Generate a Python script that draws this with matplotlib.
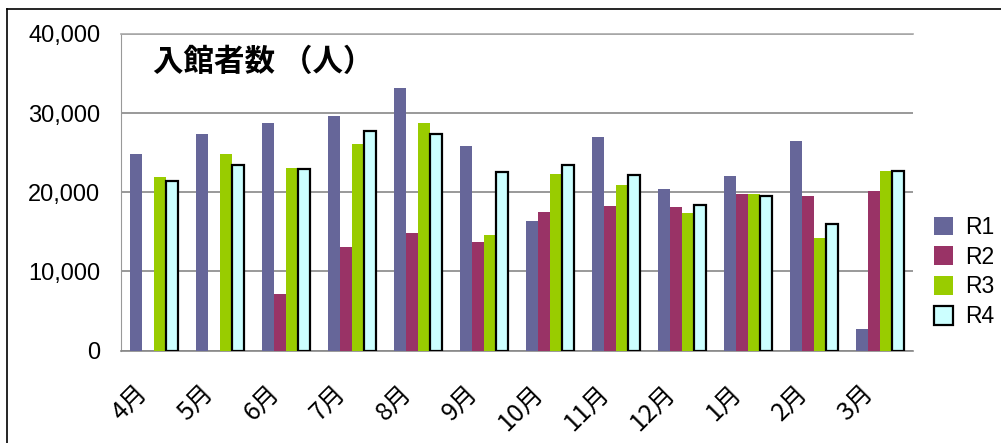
import matplotlib
matplotlib.use("Agg")
import matplotlib.pyplot as plt
import numpy as np
from matplotlib.lines import Line2D

plt.rcParams['font.family'] = ['Noto Sans CJK JP', 'DejaVu Sans']

months = ["4月", "5月", "6月", "7月", "8月", "9月", "10月", "11月", "12月", "1月", "2月", "3月"]
series_names = ["R1", "R2", "R3", "R4"]
r1 = [24800, 27330, 28720, 29600, 33140, 25810, 16340, 26950, 20380, 22020, 26440, 2700]
r2 = [0, 0, 7120, 13050, 14820, 13680, 17470, 18230, 18100, 19750, 19490, 20130]
r3 = [21900, 24800, 23030, 26060, 28720, 14570, 22270, 20880, 17350, 19750, 14190, 22650]
r4 = [21430, 23450, 22950, 27790, 27330, 22570, 23410, 22190, 18400, 19540, 16040, 22650]
y_ticks = [0, 10000, 20000, 30000, 40000]
title = "入館者数 （人）"

fig = plt.figure(figsize=(10.01, 4.43), dpi=100)
W, H = 1001, 443
ax = fig.add_axes([121 / W, (H - 350.5) / H, 792 / W, 316.5 / H])

x = np.arange(len(months))
bw = 0.182
styles = [
    dict(color="#666699"),
    dict(color="#993366"),
    dict(color="#99CC00"),
    dict(facecolor="#CCFFFF", edgecolor="black", linewidth=1.6),
]
for i, (vals, name, st) in enumerate(zip([r1, r2, r3, r4], series_names, styles)):
    ax.bar(x + (i - 1.5) * bw, vals, width=bw, label=name, zorder=3, **st)

ax.set_xlim(-0.5, len(months) - 0.5)
ax.set_ylim(0, 40000)
ax.set_yticks(y_ticks)
ax.set_yticklabels([f"{v:,}" for v in y_ticks], fontsize=17, family=['Liberation Sans', 'DejaVu Sans'])
ax.set_xticks(x)
ax.set_xticklabels([])
for xi, m in zip(x, months):
    ax.annotate(m, xy=(xi, 0), xycoords=('data', 'axes fraction'),
                xytext=(-14, -21), textcoords='offset points',
                rotation=45, ha='right', va='top', rotation_mode='anchor',
                fontsize=18, annotation_clip=False)
ax.tick_params(axis='y', length=0, pad=15)
ax.tick_params(axis='x', length=0)
ax.grid(axis='y', color="#888888", linewidth=1.2, zorder=0)
ax.spines['right'].set_visible(False)
ax.spines['top'].set_color("#aaaaaa")
ax.spines['top'].set_linewidth(1.2)
ax.spines['left'].set_color("#999999")
ax.spines['bottom'].set_color("#888888")
ax.spines['bottom'].set_linewidth(1.2)

ax.text(153 / W, (H - 62) / H, title, transform=fig.transFigure, fontsize=22,
        fontweight='bold', va='center', ha='left')

leg = ax.legend(loc='center left', bbox_to_anchor=(934 / W, (H - 272) / H),
                bbox_transform=fig.transFigure, frameon=False,
                handlelength=0.85, handleheight=0.85, handletextpad=0.5,
                labelspacing=0.3, borderpad=0, borderaxespad=0,
                prop={'family': ['Liberation Sans'], 'size': 16.5})

# outer border (top and left edges visible)
fig.add_artist(Line2D([7 / W, 1.0], [(H - 9) / H, (H - 9) / H], transform=fig.transFigure, color='black', linewidth=1.2))
fig.add_artist(Line2D([7 / W, 7 / W], [0, (H - 9) / H], transform=fig.transFigure, color='black', linewidth=1.2))

fig.savefig("out.png", dpi=100)
